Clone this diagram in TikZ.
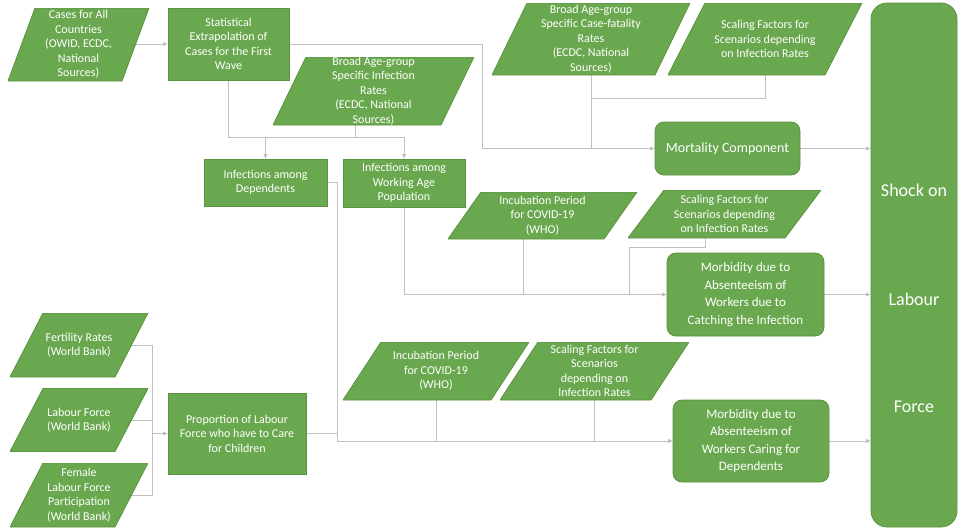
\documentclass[tikz,border=0pt]{standalone}
\usepackage{fontspec}
\setmainfont{Carlito}
\usetikzlibrary{arrows.meta,calc,backgrounds}

\definecolor{gfill}{RGB}{106,168,79}
\definecolor{gedge}{RGB}{90,148,64}
\definecolor{connc}{RGB}{192,192,192}

\newcommand\txtS{\fontsize{12}{14.5}\selectfont}
\newcommand\txtM{\fontsize{13}{17.5}\selectfont}
\newcommand\txtL{\fontsize{14}{17}\selectfont}
\newcommand\txtXL{\fontsize{18}{22}\selectfont}

\pgfdeclarelayer{paper}
\pgfsetlayers{paper,background,main}

\tikzset{
  sz/.style 2 args={minimum width=#1pt, minimum height=#2pt},
  box/.style={rectangle, fill=gfill, draw=gedge, line width=0.8pt, text=white,
    align=center, inner sep=-10pt, font=\txtS},
  rbox/.style={box, rounded corners=9pt, font=\txtM},
  parslant/.store in=\parslant, parslant=30,
  para/.style={rectangle, text=white, align=center, inner sep=-10pt, font=\txtS,
    path picture={\filldraw[fill=gfill, draw=gedge, line width=0.8pt]
      ([xshift=\parslant pt]path picture bounding box.north west)
      -- (path picture bounding box.north east)
      -- ([xshift=-\parslant pt]path picture bounding box.south east)
      -- (path picture bounding box.south west) -- cycle;}},
  conn/.style={draw=connc, line width=0.9pt},
  arr/.style={conn, -{Triangle[length=4.5pt,width=4pt]}},
}

\begin{document}
\begin{tikzpicture}[x=1pt, y=-1pt]
\begin{pgfonlayer}{paper}
  \fill[white] (0,0) rectangle (958,530);
\end{pgfonlayer}
\useasboundingbox (0,0) rectangle (958,530);

% ---- top row ----
\node[para, parslant=27, sz={141}{73}] (cases) at (78.5,44.5)
  {Cases for All\\Countries\\(OWID, ECDC,\\National\\Sources)};
\node[box, sz={121}{72}] (stat) at (228.5,44)
  {Statistical\\Extrapolation of\\Cases for the First\\Wave};
\node[para, parslant=33, sz={201}{68}] (infrate) at (373.5,91)
  {Broad Age-group\\Specific Infection\\Rates\\(ECDC, National\\Sources)};
\node[box, sz={123}{47}] (dep) at (265.5,182.5)
  {Infections among\\Dependents};
\node[box, sz={122}{48}] (work) at (404,183)
  {Infections among\\Working Age\\Population};
\node[para, parslant=35, sz={198}{72}] (cfr) at (591,39)
  {Broad Age-group\\Specific Case-fatality\\Rates\\(ECDC, National\\Sources)};
\node[para, parslant=37, sz={194}{72}] (sc1) at (765,39)
  {Scaling Factors for\\Scenarios depending\\on Infection Rates};
\node[rbox, font=\txtL, sz={145}{53}] (mort) at (727.5,148.5)
  {Mortality Component};

% ---- outcome column ----
\node[box, rounded corners=16pt, sz={86}{524}] (shock) at (914,265) {};
\node[text=white, font=\txtXL] (shk1) at (914,190) {Shock on};
\node[text=white, font=\txtXL] (shk2) at (914,299) {Labour};
\node[text=white, font=\txtXL] (shk3) at (914,407) {Force};

% ---- middle row ----
\node[para, parslant=33, sz={189}{47}] (inc1) at (542.5,215.5)
  {Incubation Period\\for COVID-19\\(WHO)};
\node[para, parslant=36, sz={193}{48}] (sc2) at (724.5,214)
  {Scaling Factors for\\Scenarios depending\\on Infection Rates};
\node[rbox, sz={157}{83}] (morb1) at (745.5,294.5)
  {Morbidity due to\\Absenteeism of\\Workers due to\\Catching the Infection};

% ---- bottom row ----
\node[para, parslant=33, sz={138}{64}] (fert) at (79,345)
  {Fertility Rates\\(World Bank)};
\node[para, parslant=33, sz={138}{63}] (lab) at (79,420)
  {Labour Force\\(World Bank)};
\node[para, parslant=33, sz={138}{64}] (fem) at (79,495)
  {Female\\Labour Force\\Participation\\(World Bank)};
\node[box, sz={138}{81}] (prop) at (237,433.5)
  {Proportion of Labour\\Force who have to Care\\for Children};
\node[para, parslant=38, sz={186}{58}] (inc2) at (436,371)
  {Incubation Period\\for COVID-19\\(WHO)};
\node[para, parslant=38, sz={189}{58}] (sc3) at (594.5,371)
  {Scaling Factors for\\Scenarios\\depending on\\Infection Rates};
\node[rbox, sz={156}{82}] (morb2) at (751,441)
  {Morbidity due to\\Absenteeism of\\Workers Caring for\\Dependents};

% ---- connectors ----
\begin{scope}[on background layer]
  % mortality branch
  \coordinate (jStat) at (482,148.5);
  \draw[arr] (stat.center) -| (jStat) -- (mort.west);
  \draw[arr] (cases.center |- stat.west) -- (stat.west);
  \coordinate (jCfr) at (591,98);
  \draw[conn] (cfr.center) -- (cfr.center |- mort.west);
  \draw[conn] (sc1.center) |- (jCfr);
  \draw[arr] (mort.east) -- (mort.east -| shock.west);

  % split of infections
  \coordinate (bus) at (404,137);
  \draw[conn] (stat.center) |- (bus);
  \draw[arr] (dep.north |- bus) -- (dep.north);
  \draw[arr] (bus) -- (work.north);
  \coordinate (infOut) at ([xshift=-18.5pt]infrate.center);
  \draw[conn] (infOut) -- (infOut |- bus);

  % morbidity of infected workers
  \draw[arr] (work.center) |- (morb1.west);
  \coordinate (inc1Out) at ([xshift=-19pt]inc1.center);
  \draw[conn] (inc1Out) -- (inc1Out |- morb1.west);
  \coordinate (sc2Out) at ([xshift=-19pt]sc2.center);
  \coordinate (sc2Turn) at (629,247);
  \draw[conn] (sc2Out) |- (sc2Turn) -- (sc2Turn |- morb1.west);
  \draw[arr] (morb1.east) -- (morb1.east -| shock.west);

  % morbidity of caring workers
  \coordinate (depTurn) at (337,182.5);
  \draw[arr] (dep.center) -- (depTurn) |- (morb2.west);
  \draw[conn] (prop.east) -- (prop.east -| depTurn);
  \draw[conn] (inc2.center) -- (inc2.center |- morb2.west);
  \draw[conn] (sc3.center) -- (sc3.center |- morb2.west);
  \draw[arr] (morb2.east) -- (morb2.east -| shock.west);

  % inputs for the share of carers
  \coordinate (leftBus) at (152,433.5);
  \draw[conn] (fert.center) -| (leftBus);
  \draw[conn] (lab.center) -| (leftBus);
  \draw[conn] (fem.center) -| (leftBus);
  \draw[arr] (leftBus) -- (prop.west);
\end{scope}
\end{tikzpicture}
\end{document}
